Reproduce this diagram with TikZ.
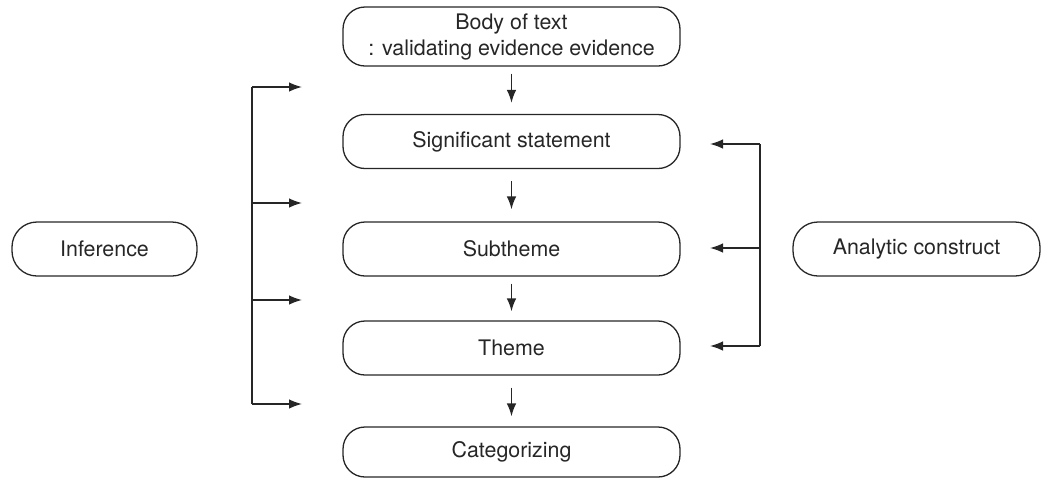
\documentclass[tikz,border=0pt]{standalone}
\usepackage{fontspec}
\setmainfont{TeX Gyre Heros}
\usepackage{tikz}
\usetikzlibrary{arrows.meta,positioning,calc}

\definecolor{inkgray}{HTML}{262626}

\begin{document}
\begin{tikzpicture}[x=0.5pt, y=-0.5pt,
  stage/.style={draw=inkgray, line width=0.65pt, rounded corners=11pt, text=inkgray,
    minimum width=168.5pt, minimum height=27pt, align=center, inner sep=0pt,
    font=\fontsize{10.7}{13}\selectfont},
  side/.style={stage, rounded corners=12.5pt},
  link/.style={->, draw=inkgray, line width=0.75pt},
  >={Latex[length=6.5pt,width=4.8pt]}]

\useasboundingbox (0,0) rectangle (1046,478);

% Main chain of stages
\node[stage, minimum height=29.5pt] (body) at (511.5,36.5) {Body of text\\: validating evidence evidence};
\node[stage] (sig) at (511.5,141.5) {Significant statement};
\node[stage] (sub) at (511.5,249) {Subtheme};
\node[stage] (theme) at (511.5,348) {Theme};
\node[stage, minimum height=25pt] (cat) at (511.5,452) {Categorizing};

% Side boxes
\node[side, minimum width=92.5pt] (inf) at (104.5,249) {Inference};
\node[side, minimum width=123.5pt] (ana) at (916.5,249) {Analytic construct};

% Arrows down the chain
\draw[link, shorten <=3.5pt, shorten >=5.5pt] (body) -- (sig);
\draw[link, shorten <=6pt, shorten >=6pt] (sig) -- (sub);
\draw[link, shorten <=3.5pt, shorten >=4.5pt] (sub) -- (theme);
\draw[link, shorten <=6pt, shorten >=5pt] (theme) -- (cat);

% Left bracket (inference)
\coordinate (lt) at (252,87);
\coordinate (lb) at (252,404);
\draw[inkgray, line width=0.75pt] (lt) -- (lb);
\foreach \y [count=\i] in {87,203,300,404} {
  \coordinate (la\i) at (302,\y);
  \draw[link] (252,\y) -- (la\i);
}

% Right bracket (analytic construct)
\coordinate (rt) at (760,144);
\coordinate (rb) at (760,346);
\draw[inkgray, line width=0.75pt] (rt) -- (rb);
\foreach \y [count=\i] in {144,248,346} {
  \coordinate (ra\i) at (710,\y);
  \draw[link] (760,\y) -- (ra\i);
}

\end{tikzpicture}
\end{document}
